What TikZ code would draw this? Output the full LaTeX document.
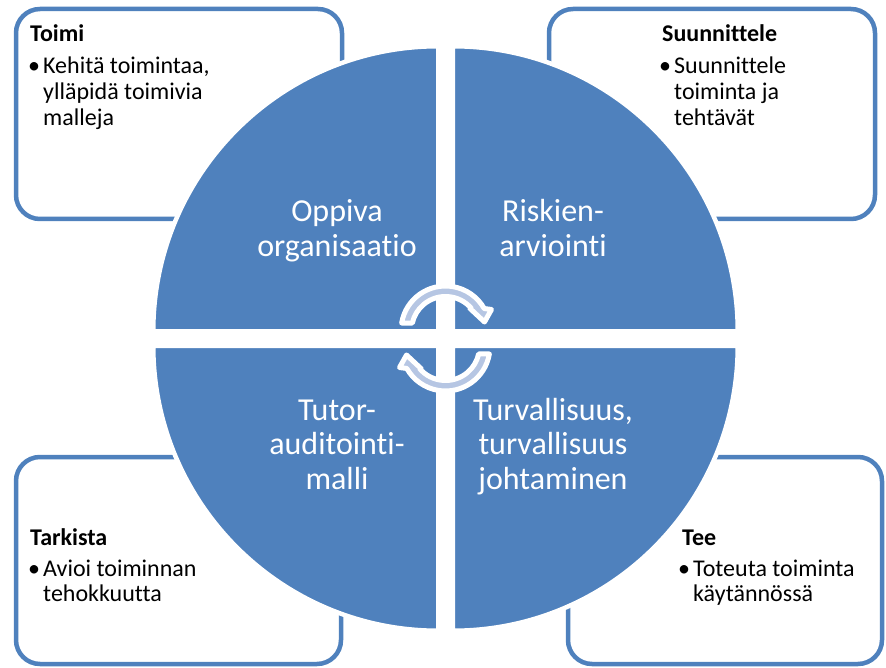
\documentclass[tikz,border=0pt]{standalone}
\usepackage{fontspec}
\setmainfont{Carlito}[Ligatures=NoCommon]
\begin{document}
\begin{tikzpicture}[x=1pt, y=1pt,
  officeblue/.style={fill={rgb,255:red,79;green,129;blue,189}},
  quadrant/.style={officeblue, draw=white, line width=4.5pt, line join=round},
  infobox/.style={draw={rgb,255:red,79;green,129;blue,189}, line width=4.5pt,
    rounded corners=24pt, fill=white, inner sep=0pt},
  arrowshape/.style={fill={rgb,255:red,182;green,198;blue,227}, draw=white,
    line width=5pt, line join=round},
  circtext/.style={text=white, inner sep=0pt,
    font=\fontsize{32}{34.5}\selectfont},
  boxtitle/.style={inner sep=0pt, font=\fontsize{24}{25.7}\selectfont\bfseries},
  boxtext/.style={inner sep=0pt, font=\fontsize{24}{25.7}\selectfont},
  cyclearrow/.pic={
    \filldraw[arrowshape] (170.3:44.5) arc[start angle=170.3, end angle=29.6, radius=44.5]
      -- (46,21) -- (39,8.5) -- (24,22.5) -- (40.3:34)
      arc[start angle=40.3, end angle=167.3, radius=34] -- cycle;
  }]
\useasboundingbox (0,0) rectangle (886,-668);

% corner boxes (PDCA steps)
\node[infobox, minimum width=326pt, minimum height=210pt] (toimi) at (179,-114) {};
\node[infobox, minimum width=326pt, minimum height=210pt] (suunnittele) at (712,-114) {};
\node[infobox, minimum width=325pt, minimum height=207pt] (tarkista) at (178.5,-560.5) {};
\node[infobox, minimum width=314pt, minimum height=207pt] (tee) at (725,-560.5) {};

% four quarter discs around the centre
\begin{scope}[shift={(445.5,-338.5)}]
  \filldraw[quadrant] (-7.25,7.25) -- ++(-285,0) arc[start angle=180, end angle=90, radius=285] -- cycle;
  \filldraw[quadrant] (7.25,7.25) -- ++(0,285) arc[start angle=90, end angle=0, radius=285] -- cycle;
  \filldraw[quadrant] (7.25,-7.25) -- ++(285,0) arc[start angle=0, end angle=-90, radius=285] -- cycle;
  \filldraw[quadrant] (-7.25,-7.25) -- ++(0,-285) arc[start angle=-90, end angle=-180, radius=285] -- cycle;
\end{scope}

% circular arrows in the middle
\pic at (445.5,-330.5) {cyclearrow};
\pic[rotate=180] at (445.5,-346.5) {cyclearrow};

% quadrant labels
\node[circtext, anchor=base] (oppiva) at (337,-222)
  {\begin{tabular}[t]{@{}c@{}}Oppiva\\organisaatio\end{tabular}};
\node[circtext, anchor=base] (riskit) at (553,-222)
  {\begin{tabular}[t]{@{}c@{}}Riskien-\\arviointi\end{tabular}};
\node[circtext, anchor=base] (tutor) at (337,-420)
  {\begin{tabular}[t]{@{}c@{}}Tutor-\\auditointi-\\malli\end{tabular}};
\node[circtext, anchor=base] (turva) at (553,-420)
  {\begin{tabular}[t]{@{}c@{}}Turvallisuus,\\turvallisuus\\johtaminen\end{tabular}};

% box texts
\node[boxtitle, anchor=base west] (toimiT) at (30,-42) {Toimi};
\node[boxtext, anchor=base west] (toimiB) at (28,-74) {•};
\node[boxtext, anchor=base west] (toimiX) at (43,-74)
  {\begin{tabular}[t]{@{}l@{}}Kehitä toimintaa,\\ylläpidä toimivia\\malleja\end{tabular}};

\node[boxtitle, anchor=base west] (suunT) at (662,-42) {Suunnittele};
\node[boxtext, anchor=base west] (suunB) at (659,-74) {•};
\node[boxtext, anchor=base west] (suunX) at (674,-74)
  {\begin{tabular}[t]{@{}l@{}}Suunnittele\\toiminta ja\\tehtävät\end{tabular}};

\node[boxtitle, anchor=base west] (tarkT) at (30,-545) {Tarkista};
\node[boxtext, anchor=base west] (tarkB) at (28,-576) {•};
\node[boxtext, anchor=base west] (tarkX) at (43,-576)
  {\begin{tabular}[t]{@{}l@{}}Avioi toiminnan\\tehokkuutta\end{tabular}};

\node[boxtitle, anchor=base west] (teeT) at (682,-545) {Tee};
\node[boxtext, anchor=base west] (teeB) at (678,-576) {•};
\node[boxtext, anchor=base west] (teeX) at (693,-576)
  {\begin{tabular}[t]{@{}l@{}}Toteuta toiminta\\käytännössä\end{tabular}};
\end{tikzpicture}
\end{document}
